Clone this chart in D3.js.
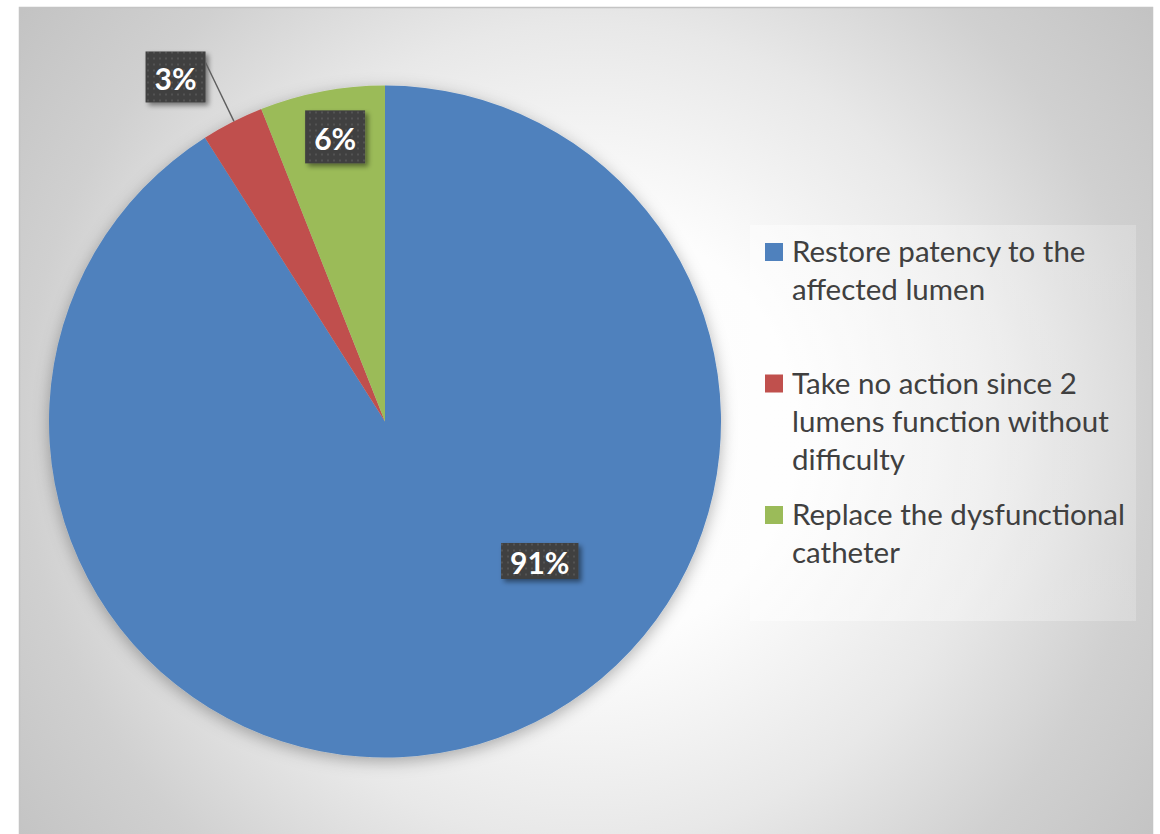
<!DOCTYPE html>
<html>
<head>
<meta charset="utf-8">
<script src="https://cdn.jsdelivr.net/npm/d3@7"></script>
<style>
  html, body { margin: 0; padding: 0; background: #ffffff; }
  svg { display: block; }
</style>
</head>
<body>
<svg id="chart" width="1160" height="834"></svg>
<script>
// Responses to a catheter with one dysfunctional lumen
const categories = [
  "Restore patency to the affected lumen",
  "Take no action since 2 lumens function without difficulty",
  "Replace the dysfunctional catheter"
];
const percents = [91, 3, 6];
const colors = ["#4f81bd", "#c0504d", "#9bbb59"];
const labels = percents.map(p => p + "%");

const svg = d3.select("#chart");
const defs = svg.append("defs");

// chart-area radial gray gradient
const frame = { x: 19.5, y: 7.5, w: 1133, h: 860 };
const bg = defs.append("radialGradient")
  .attr("id", "bgGrad")
  .attr("gradientUnits", "userSpaceOnUse")
  .attr("cx", frame.x + frame.w / 2).attr("cy", frame.y + 425)
  .attr("r", 705);
[[0, "#ffffff"], [0.3, "#fdfdfd"], [0.58, "#e8e8e8"], [0.8, "#d0d0d0"], [1, "#c3c3c3"]]
  .forEach(([o, c]) => bg.append("stop").attr("offset", o).attr("stop-color", c));

// legend panel gradient
const lg = defs.append("linearGradient").attr("id", "legGrad")
  .attr("x1", 0).attr("x2", 1).attr("y1", 0).attr("y2", 0);
lg.append("stop").attr("offset", 0).attr("stop-color", "#ffffff").attr("stop-opacity", 0.5);
lg.append("stop").attr("offset", 1).attr("stop-color", "#ffffff").attr("stop-opacity", 0.2);

// soft shadow under the pie
const pieShadow = defs.append("filter").attr("id", "pieShadow")
  .attr("x", "-10%").attr("y", "-10%").attr("width", "120%").attr("height", "120%");
pieShadow.append("feDropShadow").attr("dx", 0).attr("dy", 4)
  .attr("stdDeviation", 8).attr("flood-color", "#000").attr("flood-opacity", 0.3);

// shadow under the data-label boxes
const boxShadow = defs.append("filter").attr("id", "boxShadow")
  .attr("x", "-30%").attr("y", "-30%").attr("width", "160%").attr("height", "160%");
boxShadow.append("feDropShadow").attr("dx", 3).attr("dy", 3)
  .attr("stdDeviation", 2.5).attr("flood-color", "#000").attr("flood-opacity", 0.45);

// dotted fill for the label boxes
const pat = defs.append("pattern").attr("id", "dots")
  .attr("patternUnits", "userSpaceOnUse").attr("width", 6).attr("height", 6);
pat.append("rect").attr("width", 6).attr("height", 6).attr("fill", "#404040");
pat.append("rect").attr("x", 2).attr("y", 2).attr("width", 2).attr("height", 2).attr("fill", "#535353");

// chart area
svg.append("rect")
  .attr("x", frame.x).attr("y", frame.y).attr("width", frame.w).attr("height", frame.h)
  .attr("fill", "url(#bgGrad)").attr("stroke", "#c4c4c4").attr("stroke-width", 1.5);

// pie
const cx = 385, cy = 421.5, R = 336;
const pie = d3.pie().sort(null).value(d => d)(percents);
const arc = d3.arc().innerRadius(0).outerRadius(R);

const g = svg.append("g").attr("transform", `translate(${cx},${cy})`);
g.append("g").attr("filter", "url(#pieShadow)")
  .selectAll("path").data(pie).join("path")
  .attr("d", arc)
  .attr("fill", (d, i) => colors[i]);

// data labels: angle (radians, clockwise from top) and distance as a fraction of R
const labelFont = "Lato, 'Open Sans', sans-serif";
const midAngle = d => (d.startAngle + d.endAngle) / 2;
const labelSpots = pie.map((d, i) => {
  if (i === 0) return { a: d.startAngle + 0.403 * (d.endAngle - d.startAngle), f: 0.62 };
  if (i === 1) return { a: midAngle(d) - 0.075, f: 1.2, outside: true };
  return { a: midAngle(d) + 0.015, f: 0.86 };
});
const boxH = [36, 51, 53];

const lab = g.append("g");
pie.forEach((d, i) => {
  const s = labelSpots[i];
  const x = Math.sin(s.a) * R * s.f;
  const y = -Math.cos(s.a) * R * s.f;
  const t = lab.append("text")
    .attr("font-family", labelFont).attr("font-weight", 700)
    .attr("font-size", 30).attr("fill", "#ffffff")
    .attr("text-anchor", "middle").attr("dominant-baseline", "central")
    .attr("x", x).attr("y", y + 1).text(labels[i]);
  const tw = t.node().getComputedTextLength();
  const bw = tw + 18, bh = boxH[i];
  if (s.outside) {
    // leader from the box corner to the slice edge
    const ea = midAngle(d) + 0.005;
    lab.append("line")
      .attr("x1", x + bw / 2).attr("y1", y - bh / 2 + 11)
      .attr("x2", Math.sin(ea) * R).attr("y2", -Math.cos(ea) * R)
      .attr("stroke", "#5f5f5f").attr("stroke-width", 1.4);
  }
  lab.insert("rect", () => t.node())
    .attr("x", x - bw / 2).attr("y", y - bh / 2)
    .attr("width", bw).attr("height", bh)
    .attr("fill", "url(#dots)").attr("filter", "url(#boxShadow)");
});

// legend
const leg = { x: 750, y: 225, w: 386, h: 396 };
svg.append("rect")
  .attr("x", leg.x).attr("y", leg.y).attr("width", leg.w).attr("height", leg.h)
  .attr("fill", "url(#legGrad)");

const legendFont = "Lato, 'Open Sans', sans-serif";
const probe = svg.append("text").attr("font-family", legendFont)
  .attr("font-size", 100).text("Replace the dysfunctional");
const legendSize = 100 * 333 / probe.node().getComputedTextLength();
probe.remove();

const measure = svg.append("text").attr("font-family", legendFont).attr("font-size", legendSize);
function wrap(str, maxW) {
  const words = str.split(" ");
  const lines = [];
  let cur = "";
  words.forEach(w => {
    const trial = cur ? cur + " " + w : w;
    measure.text(trial);
    if (measure.node().getComputedTextLength() > maxW && cur) {
      lines.push(cur);
      cur = w;
    } else cur = trial;
  });
  if (cur) lines.push(cur);
  return lines;
}

const slotH = 131.5, firstBase = 262, lineH = 38;
const legendG = svg.append("g");
categories.forEach((c, i) => {
  const base = firstBase + i * slotH;
  legendG.append("rect")
    .attr("x", 765).attr("y", base - 19).attr("width", 18).attr("height", 18)
    .attr("fill", colors[i]);
  const t = legendG.append("text")
    .attr("font-family", legendFont).attr("font-size", legendSize)
    .attr("fill", "#404040").attr("x", 792).attr("y", base);
  wrap(c, 338).forEach((ln, k) => {
    t.append("tspan").attr("x", 792).attr("y", base + k * lineH).text(ln);
  });
});
measure.remove();
</script>
</body>
</html>
